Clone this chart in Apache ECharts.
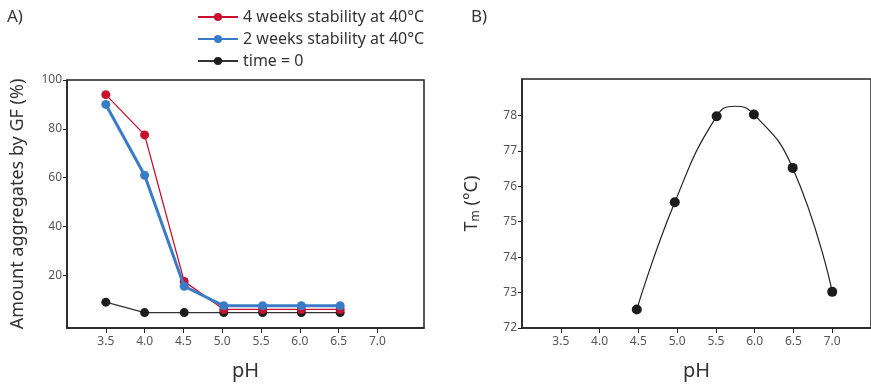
<!DOCTYPE html>
<html>
<head>
<meta charset="utf-8">
<script src="https://cdn.jsdelivr.net/npm/echarts@6/dist/echarts.min.js"></script>
<style>
  html, body { margin: 0; padding: 0; background: #fff; }
  #chart { width: 871px; height: 386px; }
</style>
</head>
<body>
<div id="chart"></div>
<script>
// panel A: aggregates vs pH
var phAgg = [3.5, 4.0, 4.51, 5.02, 5.52, 6.02, 6.52];
var weeks4 = [94, 77.5, 17.5, 6, 6, 6, 6];
var weeks2 = [90, 61, 15.5, 7.5, 7.5, 7.5, 7.5];
var time0 = [9, 4.7, 4.7, 4.7, 4.7, 4.7, 4.7];
var aggTicks = [20, 40, 60, 80, 100];

// panel B: Tm vs pH (measured points)
var phTm = [4.48, 4.97, 5.51, 5.99, 6.49, 7.0];
var tm = [72.52, 75.55, 77.98, 78.03, 76.52, 73.02];
// fitted curve (points + its top)
var phFit = [4.48, 4.97, 5.51, 5.74, 5.99, 6.49, 7.0];
var tmFit = [72.52, 75.55, 77.98, 78.26, 78.03, 76.52, 73.02];
var tmTicks = [72, 73, 74, 75, 76, 77, 78];

var phTicks = [3.5, 4.0, 4.5, 5.0, 5.5, 6.0, 6.5, 7.0];

var font = "Noto Sans";
var red = "#c8102e";
var blue = "#3a7bc8";
var black = "#1c1c1c";

function pairs(xs, ys) {
  return ys.map(function (v, i) { return [xs[i], v]; });
}

var chart = echarts.init(document.getElementById("chart"));

function xAxisOf(gridIndex, max) {
  return {
    type: "value",
    gridIndex: gridIndex,
    min: 3,
    max: max,
    name: "pH",
    nameLocation: "middle",
    nameGap: 33,
    nameTextStyle: { fontFamily: font, fontSize: 20, color: "#333" },
    axisLine: { onZero: false, lineStyle: { color: "#222", width: 1.5 } },
    axisTick: { show: true, length: 5, customValues: phTicks, lineStyle: { color: "#222" } },
    axisLabel: {
      customValues: phTicks,
      formatter: function (v) { return v.toFixed(1); },
      fontFamily: font, fontSize: 12, color: "#555", margin: 8
    },
    splitLine: { show: false }
  };
}

chart.setOption({
  animation: false,
  title: [
    { text: "A)", left: 2, top: 4, textStyle: { fontFamily: font, fontSize: 17, fontWeight: "normal", color: "#333" } },
    { text: "B)", left: 466, top: 4, textStyle: { fontFamily: font, fontSize: 17, fontWeight: "normal", color: "#333" } }
  ],
  legend: {
    orient: "vertical",
    left: 192,
    top: 4,
    itemWidth: 40,
    itemHeight: 10,
    itemGap: 6,
    textStyle: { fontFamily: font, fontSize: 16, color: "#333" },
    data: ["4 weeks stability at 40°C", "2 weeks stability at 40°C", "time = 0"]
  },
  grid: [
    { left: 67, top: 80, right: 447, bottom: 56, show: true, borderColor: "#222", borderWidth: 1.5 },
    { left: 522, top: 79, right: -3, bottom: 56, show: true, borderColor: "#222", borderWidth: 1.5 }
  ],
  xAxis: [xAxisOf(0, 7.6), xAxisOf(1, 7.5)],
  yAxis: [
    {
      type: "value",
      gridIndex: 0,
      min: -1.6,
      max: 100,
      name: "Amount aggregates by GF (%)",
      nameLocation: "middle",
      nameGap: 40,
      nameTextStyle: { fontFamily: font, fontSize: 18, color: "#333" },
      axisLine: { onZero: false, lineStyle: { color: "#222", width: 1.5 } },
      axisTick: { show: true, length: 4, customValues: aggTicks, lineStyle: { color: "#222" } },
      axisLabel: { customValues: aggTicks, fontFamily: font, fontSize: 12, color: "#555", margin: 5 },
      splitLine: { show: false }
    },
    {
      type: "value",
      gridIndex: 1,
      min: 72,
      max: 79.03,
      name: "T{sub|m} (°C)",
      nameLocation: "middle",
      nameGap: 40,
      nameTextStyle: {
        fontFamily: font, fontSize: 18, color: "#333",
        rich: { sub: { fontFamily: font, fontSize: 12, color: "#333", verticalAlign: "bottom", padding: [8, 0, 0, 0] } }
      },
      axisLine: { onZero: false, lineStyle: { color: "#222", width: 1.5 } },
      axisTick: { show: true, length: 4, customValues: tmTicks, lineStyle: { color: "#222" } },
      axisLabel: { customValues: tmTicks, fontFamily: font, fontSize: 12, color: "#555", margin: 5 },
      splitLine: { show: false }
    }
  ],
  series: [
    {
      name: "4 weeks stability at 40°C",
      type: "line",
      xAxisIndex: 0, yAxisIndex: 0,
      data: pairs(phAgg, weeks4),
      symbol: "circle", symbolSize: 9,
      itemStyle: { color: red },
      lineStyle: { color: red, width: 1.3 },
      z: 3
    },
    {
      name: "2 weeks stability at 40°C",
      type: "line",
      xAxisIndex: 0, yAxisIndex: 0,
      data: pairs(phAgg, weeks2),
      symbol: "circle", symbolSize: 9,
      itemStyle: { color: blue },
      lineStyle: { color: blue, width: 3 },
      z: 4
    },
    {
      name: "time = 0",
      type: "line",
      xAxisIndex: 0, yAxisIndex: 0,
      data: pairs(phAgg, time0),
      symbol: "circle", symbolSize: 9,
      itemStyle: { color: black },
      lineStyle: { color: "#333", width: 1.3 },
      z: 2
    },
    {
      name: "Tm fit",
      type: "line",
      xAxisIndex: 1, yAxisIndex: 1,
      data: pairs(phFit, tmFit),
      smooth: 0.5,
      showSymbol: false,
      lineStyle: { color: "#222", width: 1.2 }
    },
    {
      name: "Tm",
      type: "scatter",
      xAxisIndex: 1, yAxisIndex: 1,
      data: pairs(phTm, tm),
      symbol: "circle", symbolSize: 10,
      itemStyle: { color: black, opacity: 1 },
      z: 3
    }
  ]
});
</script>
</body>
</html>
